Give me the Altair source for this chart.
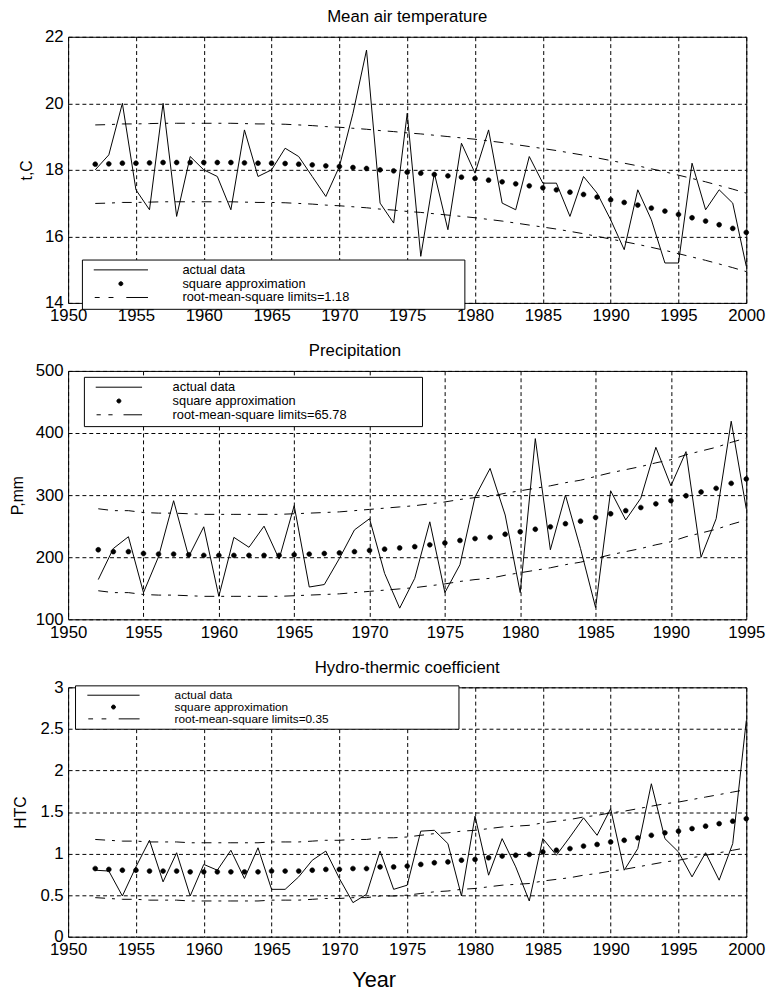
import altair as alt
import pandas as pd

FONT = "Liberation Sans"

# ---------------- data ----------------
years_t = list(range(1952, 2001))
temp_actual = [18.0, 18.45, 20.0, 17.4, 16.8, 20.0, 16.6, 18.4, 18.0, 17.8,
               16.8, 19.2, 17.8, 18.0, 18.65, 18.4, 17.8, 17.2, 18.1, 19.7,
               21.6, 17.0, 16.4, 19.7, 15.4, 17.9, 16.2, 18.8, 17.9, 19.2,
               17.0, 16.8, 18.4, 17.6, 17.6, 16.6, 17.8, 17.3, 16.5, 15.6,
               17.4, 16.5, 15.2, 15.2, 18.2, 16.8, 17.4, 17.0, 15.1]
temp_approx = [18.17, 18.18, 18.20, 18.20, 18.21, 18.22, 18.22, 18.22, 18.22, 18.22,
               18.22, 18.21, 18.20, 18.20, 18.19, 18.17, 18.15, 18.12, 18.10, 18.07,
               18.04, 18.00, 17.97, 17.93, 17.90, 17.86, 17.82, 17.78, 17.74, 17.69,
               17.64, 17.58, 17.52, 17.46, 17.40, 17.33, 17.26, 17.18, 17.10, 17.02,
               16.94, 16.85, 16.76, 16.66, 16.56, 16.46, 16.35, 16.24, 16.12]
temp_upper = [19.35, 19.36, 19.38, 19.38, 19.39, 19.40, 19.40, 19.40, 19.40, 19.40,
              19.40, 19.39, 19.38, 19.38, 19.37, 19.35, 19.33, 19.30, 19.28, 19.25,
              19.22, 19.18, 19.15, 19.11, 19.08, 19.04, 19.00, 18.96, 18.92, 18.87,
              18.82, 18.76, 18.70, 18.64, 18.58, 18.51, 18.44, 18.36, 18.28, 18.20,
              18.12, 18.03, 17.94, 17.84, 17.74, 17.64, 17.53, 17.42, 17.30]
temp_lower = [16.99, 17.00, 17.02, 17.02, 17.03, 17.04, 17.04, 17.04, 17.04, 17.04,
              17.04, 17.03, 17.02, 17.02, 17.01, 16.99, 16.97, 16.94, 16.92, 16.89,
              16.86, 16.82, 16.79, 16.75, 16.72, 16.68, 16.64, 16.60, 16.56, 16.51,
              16.46, 16.40, 16.34, 16.28, 16.22, 16.15, 16.08, 16.00, 15.92, 15.84,
              15.76, 15.67, 15.58, 15.48, 15.38, 15.28, 15.17, 15.06, 14.94]

years_p = list(range(1952, 1996))
prec_actual = [164, 214, 233, 143, 201, 291, 201, 249, 137, 232,
               216, 250, 197, 283, 152, 156, 198, 244, 262, 174,
               118, 166, 257, 143, 188, 297, 343, 268, 143, 391,
               212, 300, 214, 119, 307, 260, 295, 377, 315, 370,
               200, 262, 419, 278]
prec_approx = [212, 209, 209, 206, 205, 205, 204, 203, 203, 203,
               203, 203, 203, 204, 205, 206, 207, 209, 211, 213,
               215, 217, 220, 223, 227, 230, 232, 237, 241, 245,
               249, 254, 258, 264, 270, 275, 280, 286, 291, 299,
               305, 311, 319, 326]
prec_upper = [278, 275, 275, 272, 271, 271, 270, 269, 269, 269,
              269, 269, 269, 270, 271, 272, 273, 275, 277, 279,
              281, 283, 286, 289, 293, 296, 298, 303, 307, 311,
              315, 320, 324, 330, 336, 341, 346, 352, 357, 365,
              371, 377, 385, 392]
prec_lower = [146, 143, 143, 140, 139, 139, 138, 137, 137, 137,
              137, 137, 137, 138, 139, 140, 141, 143, 145, 147,
              149, 151, 154, 157, 161, 164, 166, 171, 175, 179,
              183, 188, 192, 198, 204, 209, 214, 220, 225, 233,
              239, 245, 253, 260]

years_h = list(range(1952, 2001))
htc_actual = [0.80, 0.79, 0.49, 0.84, 1.16, 0.66, 1.01, 0.49, 0.87, 0.80,
              1.04, 0.70, 1.07, 0.57, 0.57, 0.72, 0.92, 1.03, 0.70, 0.41,
              0.51, 1.03, 0.57, 0.62, 1.27, 1.28, 1.12, 0.49, 1.45, 0.74,
              1.18, 0.84, 0.43, 1.18, 0.98, 1.20, 1.43, 1.22, 1.54, 0.80,
              1.06, 1.84, 1.18, 1.02, 0.72, 1.01, 0.68, 1.12, 2.60]
htc_approx = [0.82, 0.81, 0.80, 0.80, 0.79, 0.79, 0.79, 0.78, 0.78, 0.78,
              0.78, 0.78, 0.78, 0.79, 0.79, 0.79, 0.80, 0.81, 0.81, 0.82,
              0.82, 0.84, 0.84, 0.85, 0.87, 0.89, 0.90, 0.92, 0.93, 0.95,
              0.97, 0.98, 0.99, 1.02, 1.04, 1.06, 1.09, 1.11, 1.14, 1.16,
              1.19, 1.22, 1.25, 1.27, 1.30, 1.33, 1.36, 1.39, 1.42]
htc_upper = [1.17, 1.16, 1.15, 1.15, 1.14, 1.14, 1.14, 1.13, 1.13, 1.13,
             1.13, 1.13, 1.13, 1.14, 1.14, 1.14, 1.15, 1.16, 1.16, 1.17,
             1.17, 1.19, 1.19, 1.20, 1.22, 1.24, 1.25, 1.27, 1.28, 1.30,
             1.32, 1.33, 1.34, 1.37, 1.39, 1.41, 1.44, 1.46, 1.49, 1.51,
             1.54, 1.57, 1.60, 1.62, 1.65, 1.68, 1.71, 1.74, 1.77]
htc_lower = [0.47, 0.46, 0.45, 0.45, 0.44, 0.44, 0.44, 0.43, 0.43, 0.43,
             0.43, 0.43, 0.43, 0.44, 0.44, 0.44, 0.45, 0.46, 0.46, 0.47,
             0.47, 0.49, 0.49, 0.50, 0.52, 0.54, 0.55, 0.57, 0.58, 0.60,
             0.62, 0.63, 0.64, 0.67, 0.69, 0.71, 0.74, 0.76, 0.79, 0.81,
             0.84, 0.87, 0.90, 0.92, 0.95, 0.98, 1.01, 1.04, 1.07]

temp_legend = ["actual data", "square approximation", "root-mean-square limits=1.18"]
prec_legend = ["actual data", "square approximation", "root-mean-square limits=65.78"]
htc_legend = ["actual data", "square approximation", "root-mean-square limits=0.35"]

temp_yticks = [14, 16, 18, 20, 22]
prec_yticks = [100, 200, 300, 400, 500]
htc_yticks = [0, 0.5, 1, 1.5, 2, 2.5, 3]

NB = "\u00a0"
ZW = "\u200b"
LIMIT_DASH = [10, 7, 3, 7]


def sym_paths(half):
    k = half / 5.5
    line = f"M{-half:.2f},0H{half:.2f}"
    r = 0.4
    dot = f"M{-r},0A{r},{r},0,1,1,{r},0A{r},{r},0,1,1,{-r},0Z"
    dash = (f"M{-5.3*k:.2f},0H{-4.3*k:.2f}M{-2.5*k:.2f},0H{-1.5*k:.2f}"
            f"M{1.1*k:.2f},0H{5.5*k:.2f}")
    return [line, dot, dash]


def panel(years, actual, approx, upper, lower, legend_names, title, title_dx,
          ytitle, ytitle_x, ydomain, yticks, xmax, width, height, leg, xtitle=None):
    n = len(years)
    df_act = pd.DataFrame({"year": years, "value": actual})
    df_lim = pd.DataFrame({"year": years + years, "value": upper + lower,
                           "part": ["upper"] * n + ["lower"] * n})
    df_app = pd.DataFrame({"year": years, "value": approx,
                           "series": [legend_names[1]] * n})

    xaxis_kw = dict(values=list(range(1950, xmax + 1, 5)), format="d",
                    labelFlush=False, labelOverlap=False)
    if xtitle:
        xaxis_kw.update(title=xtitle, titleFontSize=22, titleX=310, titleY=51,
                        titleBaseline="alphabetic", titleAlign="center")
    else:
        xaxis_kw.update(title=None)
    x = alt.X("year:Q", scale=alt.Scale(domain=[1950, xmax], nice=False, zero=False),
              axis=alt.Axis(**xaxis_kw))
    y = alt.Y("value:Q", scale=alt.Scale(domain=ydomain, nice=False, zero=False),
              axis=alt.Axis(values=yticks, labelExpr="datum.value + ''",
                            labelFlush=False, labelOverlap=False, title=ytitle,
                            titleX=ytitle_x, titleY=height / 2, titleAngle=270,
                            titleAlign="center", titleBaseline="middle"))

    line_act = alt.Chart(df_act).mark_line(color="black", strokeWidth=1).encode(x=x, y=y)
    line_lim = alt.Chart(df_lim).mark_line(color="black", strokeWidth=1,
                                           strokeDash=LIMIT_DASH).encode(
        x=x, y=y, detail="part:N")

    longest = legend_names[2]
    label_expr = ("datum.value == '" + longest + "' ? datum.label + '" +
                  NB * leg["nbsp"] + ZW + "' : datum.label")
    pts = alt.Chart(df_app).mark_point(filled=False, color="black", fill="black",
                                       stroke="black", strokeWidth=0.6, size=150,
                                       opacity=1).encode(
        x=x, y=y,
        shape=alt.Shape("series:N",
                        scale=alt.Scale(domain=legend_names, range=sym_paths(leg["half"])),
                        legend=alt.Legend(
                            title=None, orient="none", legendX=leg["x"], legendY=leg["y"],
                            strokeColor="black", fillColor="white", padding=leg["pad"],
                            cornerRadius=0, symbolSize=100, symbolStrokeWidth=1,
                            symbolFillColor="black",
                            symbolOffset=leg["so"], labelOffset=leg["lo"],
                            labelFont=FONT, labelFontSize=leg["fs"], labelColor="black",
                            rowPadding=0, labelLimit=700, labelExpr=label_expr)))

    return alt.layer(line_lim, line_act, pts).properties(
        width=width, height=height,
        title=alt.TitleParams(text=title, dx=title_dx, dy=25, frame="group",
                              baseline="alphabetic", offset=14))


p1 = panel(years_t, temp_actual, temp_approx, temp_upper, temp_lower, temp_legend,
           "Mean air temperature", 0, "t,C", -42, [14, 22], temp_yticks, 2000, 688, 270,
           dict(x=14, y=226, fs=13, pad=4, half=5.5, so=29, lo=56, nbsp=31))
p2 = panel(years_p, prec_actual, prec_approx, prec_upper, prec_lower, prec_legend,
           "Precipitation", -53, "P,mm", -51, [100, 500], prec_yticks, 1995, 688, 252,
           dict(x=16, y=6, fs=13, pad=4, half=4.7, so=25, lo=48, nbsp=20))
p3 = panel(years_h, htc_actual, htc_approx, htc_upper, htc_lower, htc_legend,
           "Hydro-thermic coefficient", 0, "HTC", -48, [0, 3], htc_yticks, 2000, 688, 253,
           dict(x=7, y=-2, fs=12, pad=4, half=5.3, so=29, lo=56, nbsp=38),
           xtitle="Year")

chart = alt.vconcat(p1, p2, p3, spacing=69, bounds="flush").resolve_scale(
    shape="independent"
).resolve_legend(shape="independent").properties(
    padding={"left": 1, "top": -8, "right": 0, "bottom": 0},
    background="white",
).configure_view(stroke="black", strokeWidth=1).configure_axis(
    domain=False, ticks=False, grid=True, gridColor="black", gridDash=[4, 3],
    gridWidth=1, gridOpacity=1, labelFont=FONT, labelFontSize=17, labelColor="black",
    labelPadding=5, titleFont=FONT, titleFontSize=16, titleFontWeight="normal",
    titleColor="black"
).configure_title(font=FONT, fontSize=17, fontWeight="normal", color="black",
                  anchor="middle")

chart.save("out.html", embed_options={"renderer": "svg", "actions": False})
